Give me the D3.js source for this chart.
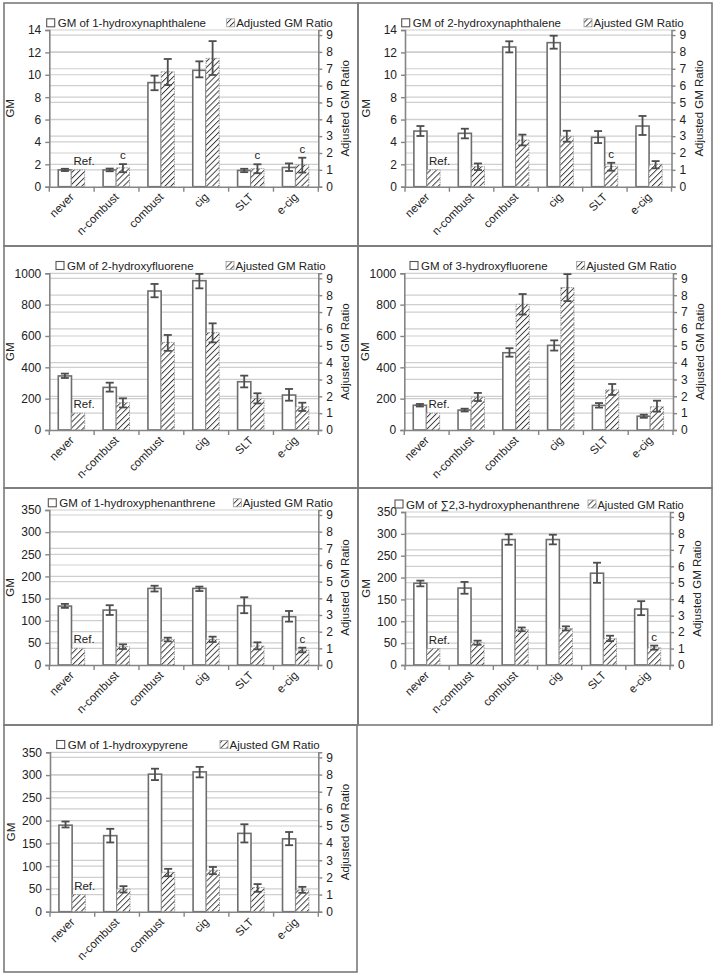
<!DOCTYPE html>
<html><head><meta charset="utf-8">
<script src="https://cdn.jsdelivr.net/npm/d3@7"></script>
<style>
body{margin:0;background:#fff}
svg{display:block}
text{font-family:"Liberation Sans",Arial,sans-serif;fill:#222}
</style>
</head><body>
<svg id="chart" width="715" height="975"></svg>
<script>
// ---------------- DATA ----------------
const categories = ["never", "n-combust", "combust", "cig", "SLT", "e-cig"];
const compounds = ["1-hydroxynaphthalene", "2-hydroxynaphthalene", "2-hydroxyfluorene",
  "3-hydroxyfluorene", "1-hydroxyphenanthrene", "\u22112,3-hydroxyphenanthrene", "1-hydroxypyrene"];
const ratioNames = ["Adjusted GM Ratio", "Ajusted GM Ratio", "Ajusted GM Ratio", "Ajusted GM Ratio",
  "Ajusted GM Ratio", "Ajusted GM Ratio", "Ajusted GM Ratio"];
const gmTicksNaph = [0, 2, 4, 6, 8, 10, 12, 14];
const gmTicksFluo = [0, 200, 400, 600, 800, 1000];
const gmTicksPhen = [0, 50, 100, 150, 200, 250, 300, 350];
const ratioTicks = [0, 1, 2, 3, 4, 5, 6, 7, 8, 9];
const ratioMax = 9.3;

// Panel 1: 1-hydroxynaphthalene
const gm1 = [1.5, 1.5, 9.3, 10.4, 1.45, 1.72];
const gmLo1 = [1.4, 1.38, 8.62, 9.77, 1.3, 1.4];
const gmHi1 = [1.6, 1.62, 9.92, 11.2, 1.6, 2.08];
const ratio1 = [1.0, 1.12, 6.82, 7.62, 1.07, 1.3];
const ratioLo1 = [null, 0.86, 6.03, 6.63, 0.8, 0.84];
const ratioHi1 = [null, 1.34, 7.58, 8.64, 1.33, 1.72];
const note1 = ["Ref.", "c", "", "", "c", "c"];

// Panel 2: 2-hydroxynaphthalene
const gm2 = [4.97, 4.77, 12.48, 12.87, 4.41, 5.42];
const gmLo2 = [4.53, 4.32, 12.0, 12.33, 3.9, 4.62];
const gmHi2 = [5.42, 5.18, 12.99, 13.49, 4.97, 6.32];
const ratio2 = [1.0, 1.19, 2.77, 2.99, 1.2, 1.33];
const ratioLo2 = [null, 0.99, 2.45, 2.67, 0.95, 1.09];
const ratioHi2 = [null, 1.38, 3.09, 3.32, 1.42, 1.52];
const note2 = ["Ref.", "", "", "", "c", ""];

// Panel 3: 2-hydroxyfluorene
const gm3 = [345, 272, 887, 953, 308, 223];
const gmLo3 = [332, 245, 847, 904, 272, 187];
const gmHi3 = [360, 302, 932, 996, 347, 262];
const ratio3 = [1.0, 1.62, 5.2, 5.78, 1.88, 1.38];
const ratioLo3 = [null, 1.34, 4.7, 5.2, 1.58, 1.13];
const ratioHi3 = [null, 1.88, 5.64, 6.33, 2.18, 1.62];
const note3 = ["Ref.", "", "", "", "", ""];

// Panel 4: 3-hydroxyfluorene
const gm4 = [158, 127, 493, 540, 157, 88];
const gmLo4 = [150, 118, 468, 507, 143, 78];
const gmHi4 = [166, 136, 522, 572, 172, 98];
const ratio4 = [1.0, 1.95, 7.46, 8.45, 2.38, 1.38];
const ratioLo4 = [null, 1.72, 6.85, 7.65, 2.08, 1.09];
const ratioHi4 = [null, 2.2, 8.07, 9.25, 2.73, 1.74];
const note4 = ["Ref.", "", "", "", "", ""];

// Panel 5: 1-hydroxyphenanthrene
const gm5 = [133, 124, 173, 173, 134, 109];
const gmLo5 = [129, 113, 166, 167, 117, 98];
const gmHi5 = [138, 135, 179, 177, 153, 122];
const ratio5 = [1.0, 1.1, 1.54, 1.54, 1.14, 0.9];
const ratioLo5 = [null, 0.96, 1.42, 1.38, 0.94, 0.76];
const ratioHi5 = [null, 1.24, 1.64, 1.7, 1.36, 1.04];
const note5 = ["Ref.", "", "", "", "", "c"];

// Panel 6: sum 2,3-hydroxyphenanthrene
const gm6 = [187, 176, 287, 287, 210, 128];
const gmLo6 = [180, 163, 275, 276, 188, 114];
const gmHi6 = [193, 190, 299, 298, 234, 146];
const ratio6 = [1.0, 1.35, 2.15, 2.22, 1.6, 1.05];
const ratioLo6 = [null, 1.23, 2.05, 2.1, 1.45, 0.93];
const ratioHi6 = [null, 1.48, 2.28, 2.35, 1.78, 1.18];
const note6 = ["Ref.", "", "", "", "", "c"];

// Panel 7: 1-hydroxypyrene
const gm7 = [190, 167, 302, 307, 172, 160];
const gmLo7 = [185, 152, 289, 295, 152, 146];
const gmHi7 = [198, 182, 314, 318, 192, 175];
const ratio7 = [1.0, 1.32, 2.3, 2.42, 1.41, 1.26];
const ratioLo7 = [null, 1.12, 2.07, 2.19, 1.16, 1.1];
const ratioHi7 = [null, 1.49, 2.5, 2.61, 1.61, 1.45];
const note7 = ["Ref.", "", "", "", "", ""];

// ---------------- LAYOUT ----------------
const panels = [
  {box:[4,3,354,243],   plot:[49.3,30,318.3,186.7],   legY:23.3, legA:46.7,  legB:226.7, ticks:gmTicksNaph,
   gm:gm1, gmLo:gmLo1, gmHi:gmHi1, r:ratio1, rLo:ratioLo1, rHi:ratioHi1, note:note1},
  {box:[358,3,354,243], plot:[405,30,671.5,186.7],    legY:23.3, legA:401.7, legB:584,   ticks:gmTicksNaph,
   gm:gm2, gmLo:gmLo2, gmHi:gmHi2, r:ratio2, rLo:ratioLo2, rHi:ratioHi2, note:note2},
  {box:[4,246,354,242], plot:[49.3,273.3,318.3,430],  legY:266,  legA:56,    legB:226,   ticks:gmTicksFluo,
   gm:gm3, gmLo:gmLo3, gmHi:gmHi3, r:ratio3, rLo:ratioLo3, rHi:ratioHi3, note:note3},
  {box:[358,246,354,242], plot:[404.3,273.3,673,430], legY:266,  legA:410,   legB:576.7, ticks:gmTicksFluo,
   gm:gm4, gmLo:gmLo4, gmHi:gmHi4, r:ratio4, rLo:ratioLo4, rHi:ratioHi4, note:note4},
  {box:[4,488,354,237], plot:[49.3,510,318.3,665],    legY:503.3,legA:48.3,  legB:233.3, ticks:gmTicksPhen,
   gm:gm5, gmLo:gmLo5, gmHi:gmHi5, r:ratio5, rLo:ratioLo5, rHi:ratioHi5, note:note5},
  {box:[358,488,354,237], plot:[405,512,670,665],     legY:504.5,legA:395,   legB:588,   ticks:gmTicksPhen,
   gm:gm6, gmLo:gmLo6, gmHi:gmHi6, r:ratio6, rLo:ratioLo6, rHi:ratioHi6, note:note6},
  {box:[4,725,353,247], plot:[50,752.3,318.3,911.7],  legY:745,  legA:56.7,  legB:220,   ticks:gmTicksPhen,
   gm:gm7, gmLo:gmLo7, gmHi:gmHi7, r:ratio7, rLo:ratioLo7, rHi:ratioHi7, note:note7}
];

const svg = d3.select("#chart");
const defs = svg.append("defs");
const pat = defs.append("pattern").attr("id","hatch").attr("patternUnits","userSpaceOnUse")
  .attr("width",4.2).attr("height",4.2).attr("patternTransform","rotate(45)");
pat.append("rect").attr("width",4.2).attr("height",4.2).attr("fill","#fff");
pat.append("line").attr("x1",0).attr("y1",0).attr("x2",0).attr("y2",4.2)
  .attr("stroke","#3a3a3a").attr("stroke-width",1.9);

const FS = 11;
const gridCol = "#cfcfcf", axisCol = "#858585", errCol = "#4d4d4d";

panels.forEach((p, i) => {
  const g = svg.append("g");
  const [bx, by, bw, bh] = p.box;
  const [x0, y0, x1, y1] = p.plot;
  const gmMax = p.ticks[p.ticks.length - 1];
  const x = d3.scaleBand().domain(categories).range([x0, x1]).paddingInner(0).paddingOuter(0);
  const sub = d3.scaleBand().domain(["gm","ratio"]).range([x.bandwidth()*0.2, x.bandwidth()*0.79]);
  const yL = d3.scaleLinear().domain([0, gmMax]).range([y1, y0]);
  const yR = d3.scaleLinear().domain([0, ratioMax]).range([y1, y0]);

  // gridlines (both axes)
  g.selectAll(".gl").data(p.ticks.slice(1)).join("line")
    .attr("x1", x0).attr("x2", x1).attr("y1", d => yL(d)).attr("y2", d => yL(d))
    .attr("stroke", gridCol).attr("stroke-width", 1.2);
  g.selectAll(".gr").data(ratioTicks.slice(1)).join("line")
    .attr("x1", x0).attr("x2", x1).attr("y1", d => yR(d)).attr("y2", d => yR(d))
    .attr("stroke", gridCol).attr("stroke-width", 1.2);

  // GM bars
  g.selectAll(".bg").data(categories).join("rect")
    .attr("x", c => x(c) + sub("gm")).attr("width", sub.bandwidth())
    .attr("y", (c, k) => yL(p.gm[k])).attr("height", (c, k) => y1 - yL(p.gm[k]))
    .attr("fill", "#fff").attr("stroke", "#6e6e6e").attr("stroke-width", 1.6);
  // ratio bars
  g.selectAll(".br").data(categories).join("rect")
    .attr("x", c => x(c) + sub("ratio")).attr("width", sub.bandwidth())
    .attr("y", (c, k) => yR(p.r[k])).attr("height", (c, k) => y1 - yR(p.r[k]))
    .attr("fill", "url(#hatch)").attr("stroke", "#9a9a9a").attr("stroke-width", 1)
    .attr("stroke-dasharray", "1.5,1");

  // error bars
  const cap = 4;
  function errBars(key, lo, hi, sc) {
    categories.forEach((c, k) => {
      if (lo[k] == null) return;
      const cx = x(c) + sub(key) + sub.bandwidth()/2;
      const a = sc(lo[k]), b = sc(hi[k]);
      g.append("line").attr("x1", cx).attr("x2", cx).attr("y1", a).attr("y2", b)
        .attr("stroke", errCol).attr("stroke-width", 1.8);
      [a, b].forEach(yy => g.append("line").attr("x1", cx - cap).attr("x2", cx + cap)
        .attr("y1", yy).attr("y2", yy).attr("stroke", errCol).attr("stroke-width", 1.8));
    });
  }
  errBars("gm", p.gmLo, p.gmHi, yL);
  errBars("ratio", p.rLo, p.rHi, yR);

  // notes (Ref., c)
  categories.forEach((c, k) => {
    const t = p.note[k];
    if (!t) return;
    const cx = x(c) + sub("ratio") + sub.bandwidth()/2;
    const top = p.rHi[k] != null ? yR(p.rHi[k]) : yR(p.r[k]);
    g.append("text").attr("x", cx + (t === "Ref." ? 6 : 0)).attr("y", top - 5)
      .attr("text-anchor", "middle").attr("font-size", FS + 0.5).text(t);
  });

  // axes
  const axL = d3.axisLeft(yL).tickValues(p.ticks).tickSize(4).tickPadding(4).tickFormat(d3.format("d"));
  const axR = d3.axisRight(yR).tickValues(ratioTicks).tickSize(4).tickPadding(4).tickFormat(d3.format("d"));
  const axB = d3.axisBottom(x).tickSize(0).tickFormat("");
  [[axL, x0], [axR, x1]].forEach(([ax, tx]) => {
    const a = g.append("g").attr("transform", `translate(${tx},0)`).call(ax);
    a.select(".domain").attr("stroke", axisCol).attr("stroke-width", 1.6);
    a.selectAll(".tick line").attr("stroke", axisCol).attr("stroke-width", 1.4);
    a.selectAll(".tick text").attr("font-size", FS + 1).attr("font-family", "Liberation Sans, Arial, sans-serif").attr("fill", "#222");
  });
  const xa = g.append("g").attr("transform", `translate(0,${y1})`).call(axB);
  xa.select(".domain").attr("stroke", axisCol).attr("stroke-width", 1.6);
  // category boundary ticks
  g.selectAll(".bt").data(d3.range(categories.length + 1)).join("line")
    .attr("x1", k => x0 + k * x.bandwidth()).attr("x2", k => x0 + k * x.bandwidth())
    .attr("y1", y1).attr("y2", y1 + 5).attr("stroke", axisCol).attr("stroke-width", 1.4);
  // category labels
  g.selectAll(".cl").data(categories).join("text")
    .attr("transform", c => `translate(${x(c) + x.bandwidth()/2 + 3},${y1 + 11}) rotate(-45)`)
    .attr("text-anchor", "end").attr("font-size", FS + 0.5).text(c => c);

  // axis titles
  g.append("text").attr("transform", `translate(${x0 - 35},${(y0 + y1)/2}) rotate(-90)`)
    .attr("text-anchor", "middle").attr("font-size", FS + 0.5).text("GM");
  g.append("text").attr("transform", `translate(${x1 + 31},${(y0 + y1)/2}) rotate(-90)`)
    .attr("text-anchor", "middle").attr("font-size", FS + 0.5).text("Adjusted GM Ratio");

  // legend
  g.append("rect").attr("x", p.legA).attr("y", p.legY - 4.5).attr("width", 8).attr("height", 8)
    .attr("fill", "#fff").attr("stroke", "#555").attr("stroke-width", 1.1);
  g.append("text").attr("x", p.legA + 11).attr("y", p.legY + 4).attr("font-size", FS + 0.5)
    .text("GM of " + compounds[i]);
  g.append("rect").attr("x", p.legB).attr("y", p.legY - 4.5).attr("width", 8).attr("height", 8)
    .attr("fill", "url(#hatch)").attr("stroke", "#999").attr("stroke-width", 0.8);
  g.append("text").attr("x", p.legB + 9.5).attr("y", p.legY + 4).attr("font-size", i === 5 ? FS : FS + 0.5)
    .text(ratioNames[i]);

  // panel border
  svg.append("rect").attr("x", bx).attr("y", by).attr("width", bw).attr("height", bh)
    .attr("fill", "none").attr("stroke", "#7a7a7a").attr("stroke-width", 1.6);
});
</script>
</body></html>
